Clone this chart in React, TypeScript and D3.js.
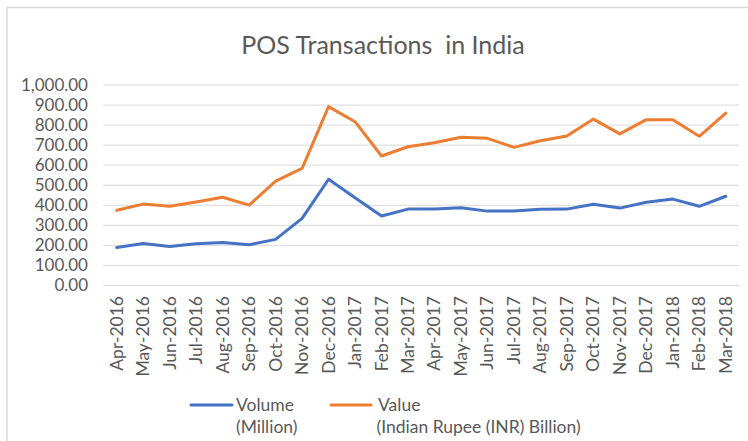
import React from "react";
import * as d3 from "d3";

const months = [
  "Apr-2016", "May-2016", "Jun-2016", "Jul-2016", "Aug-2016", "Sep-2016",
  "Oct-2016", "Nov-2016", "Dec-2016", "Jan-2017", "Feb-2017", "Mar-2017",
  "Apr-2017", "May-2017", "Jun-2017", "Jul-2017", "Aug-2017", "Sep-2017",
  "Oct-2017", "Nov-2017", "Dec-2017", "Jan-2018", "Feb-2018", "Mar-2018",
];
const volume = [190, 210, 194, 208, 215, 203, 230, 335, 530, 438, 347, 381, 381, 388, 371, 371, 380, 381, 405, 386, 415, 431, 395, 445];
const value = [375, 406, 395, 416, 440, 401, 521, 584, 892, 817, 646, 692, 712, 739, 734, 689, 722, 746, 830, 756, 827, 827, 744, 860];
const yTicks = [0, 100, 200, 300, 400, 500, 600, 700, 800, 900, 1000];

const W = 748;
const H = 441;
const FONT = "Lato, 'Open Sans', sans-serif";
const TEXT = "#595959";
const GRID = "#D9D9D9";
const BLUE = "#4472C4";
const ORANGE = "#ED7D31";

export default function App() {
  const x = d3.scalePoint<string>().domain(months).range([103.5, 739]).padding(0.5);
  const y = d3.scaleLinear().domain([0, 1000]).range([285.5, 85]);
  const fmt = d3.format(",.2f");
  const line = d3
    .line<number>()
    .x((_, i) => x(months[i]) as number)
    .y((d) => y(d));

  return (
    <svg
      width={W}
      height={H}
      style={{ position: "absolute", left: 0, top: 0, background: "#fff" }}
      fontFamily={FONT}
    >
      <rect x={0} y={0} width={W} height={H} fill="#fff" />
      <rect x={7} y={7.5} width={800} height={500} fill="none" stroke={GRID} strokeWidth={1.5} />
      <text
        x={383}
        y={54}
        textAnchor="middle"
        fontSize={25}
        fill={TEXT}
        style={{ whiteSpace: "pre" }}
      >
        {"POS Transactions  in India"}
      </text>
      {yTicks.map((t) => (
        <g key={t}>
          <line x1={103.5} x2={739} y1={y(t)} y2={y(t)} stroke={GRID} strokeWidth={1} />
          <text x={88} y={y(t)} dy="0.35em" textAnchor="end" fontSize={17} fill={TEXT}>
            {fmt(t)}
          </text>
        </g>
      ))}
      {months.map((m) => (
        <text
          key={m}
          transform={`translate(${(x(m) as number) + 6},296) rotate(-90)`}
          textAnchor="end"
          fontSize={17.5}
          fill={TEXT}
        >
          {m}
        </text>
      ))}
      <path d={line(volume) || ""} fill="none" stroke={BLUE} strokeWidth={3} strokeLinejoin="round" strokeLinecap="round" />
      <path d={line(value) || ""} fill="none" stroke={ORANGE} strokeWidth={3} strokeLinejoin="round" strokeLinecap="round" />
      <g fontSize={17.5} fill={TEXT}>
        <line x1={191} x2={232} y1={405} y2={405} stroke={BLUE} strokeWidth={3} strokeLinecap="round" />
        <text x={236} y={411}>Volume</text>
        <text x={236} y={433}>(Million)</text>
        <line x1={331} x2={371} y1={405} y2={405} stroke={ORANGE} strokeWidth={3} strokeLinecap="round" />
        <text x={378} y={411}>Value</text>
        <text x={376.5} y={433}>(Indian Rupee (INR) Billion)</text>
      </g>
    </svg>
  );
}
